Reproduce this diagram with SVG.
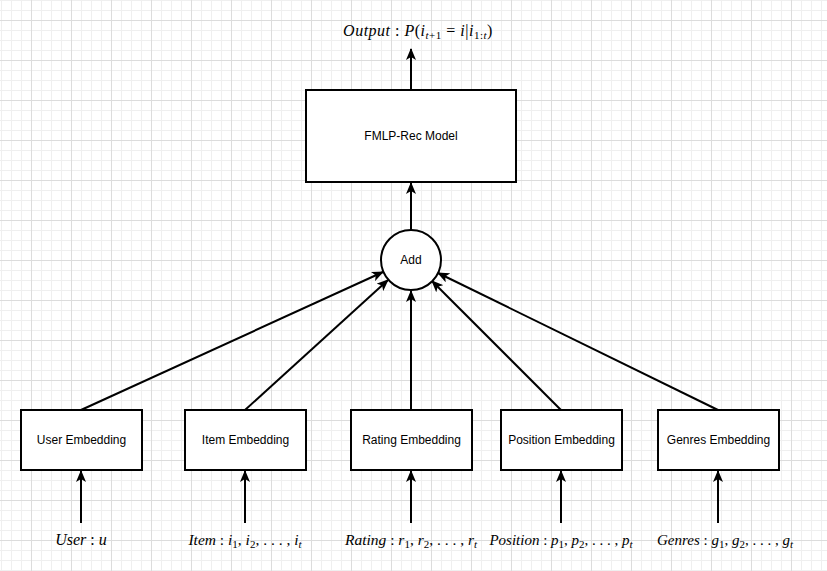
<svg xmlns="http://www.w3.org/2000/svg" width="827" height="571" viewBox="0 0 827 571">
  <defs>
    <pattern id="gridMinor" x="1" y="0" width="10" height="10" patternUnits="userSpaceOnUse">
      <path d="M0.5 0V10M0 0.5H10" fill="none" stroke="#efefef" stroke-width="1"/>
    </pattern>
    <pattern id="gridMajor" x="31" y="20" width="40" height="40" patternUnits="userSpaceOnUse">
      <path d="M0.5 0V40M0 0.5H40" fill="none" stroke="#dcdcdc" stroke-width="1"/>
    </pattern>
    <marker id="arrow" viewBox="0 0 12 10" refX="11" refY="5" markerWidth="12" markerHeight="10" markerUnits="userSpaceOnUse" orient="auto">
      <path d="M0 0L12 5L0 10L3 5Z" fill="#000"/>
    </marker>
    <style>
      .box { fill: #fff; stroke: #000; stroke-width: 2; }
      .lbl { font-family: "Liberation Sans", Arial, sans-serif; font-size: 12px; fill: #000; text-anchor: middle; }
      .edge { fill: none; stroke: #000; stroke-width: 2; marker-end: url(#arrow); }
      .math { font-family: "Liberation Serif", "DejaVu Serif", serif; font-size: 15.5px; fill: #000; text-anchor: middle; }
      .it { font-style: italic; }
      .sub { font-size: 11px; }
    </style>
  </defs>

  <rect width="827" height="571" fill="#fff"/>
  <rect width="827" height="571" fill="url(#gridMinor)"/>
  <rect width="827" height="571" fill="url(#gridMajor)"/>

  <!-- connectors -->
  <g id="edges">
    <path class="edge" d="M411 90V49"/>
    <path class="edge" d="M411 230V183"/>
    <path class="edge" d="M81 410L383 272"/>
    <path class="edge" d="M245 410L388 280"/>
    <path class="edge" d="M411 410V291"/>
    <path class="edge" d="M561 410L432 281"/>
    <path class="edge" d="M718 410L438 273"/>
    <path class="edge" d="M81 523V471"/>
    <path class="edge" d="M245 523V471"/>
    <path class="edge" d="M411 523V471"/>
    <path class="edge" d="M561 523V471"/>
    <path class="edge" d="M718 523V471"/>
  </g>

  <g id="output">
    <text class="math" x="418" y="36" style="font-size:16px;letter-spacing:0.5px"><tspan class="it">Output</tspan> : <tspan class="it">P</tspan>(<tspan class="it">i</tspan><tspan class="sub it" dy="3">t</tspan><tspan class="sub">+1</tspan><tspan dy="-3"> = </tspan><tspan class="it">i</tspan>|<tspan class="it">i</tspan><tspan class="sub" dy="3">1:</tspan><tspan class="sub it">t</tspan><tspan dy="-3">)</tspan></text>
  </g>

  <g id="fmlp">
    <rect class="box" x="306" y="90" width="210" height="92"/>
    <text class="lbl" x="411" y="140">FMLP-Rec Model</text>
  </g>

  <g id="add">
    <circle class="box" cx="411" cy="260" r="30"/>
    <text class="lbl" x="411" y="264">Add</text>
  </g>

  <g id="user-emb">
    <rect class="box" x="21" y="410" width="121" height="60"/>
    <text class="lbl" x="81.5" y="444">User Embedding</text>
  </g>
  <g id="item-emb">
    <rect class="box" x="185" y="410" width="121" height="60"/>
    <text class="lbl" x="245.5" y="444">Item Embedding</text>
  </g>
  <g id="rating-emb">
    <rect class="box" x="351" y="410" width="121" height="60"/>
    <text class="lbl" x="411.5" y="444">Rating Embedding</text>
  </g>
  <g id="position-emb">
    <rect class="box" x="501" y="410" width="121" height="60"/>
    <text class="lbl" x="561.5" y="444">Position Embedding</text>
  </g>
  <g id="genres-emb">
    <rect class="box" x="658" y="410" width="121" height="60"/>
    <text class="lbl" x="718.5" y="444">Genres Embedding</text>
  </g>

  <g id="user-in">
    <text class="math" x="81" y="545" style="font-size:16px"><tspan class="it">User</tspan> : <tspan class="it">u</tspan></text>
  </g>
  <g id="item-in">
    <text class="math" x="245" y="545"><tspan class="it">Item</tspan> : <tspan class="it">i</tspan><tspan class="sub" dy="3">1</tspan><tspan dy="-3">, </tspan><tspan class="it">i</tspan><tspan class="sub" dy="3">2</tspan><tspan dy="-3">, . . . , </tspan><tspan class="it">i</tspan><tspan class="sub it" dy="3">t</tspan></text>
  </g>
  <g id="rating-in">
    <text class="math" x="411" y="545"><tspan class="it">Rating</tspan> : <tspan class="it">r</tspan><tspan class="sub" dy="3">1</tspan><tspan dy="-3">, </tspan><tspan class="it">r</tspan><tspan class="sub" dy="3">2</tspan><tspan dy="-3">, . . . , </tspan><tspan class="it">r</tspan><tspan class="sub it" dy="3">t</tspan></text>
  </g>
  <g id="position-in">
    <text class="math" x="561" y="545" style="font-size:15px"><tspan class="it">Position</tspan> : <tspan class="it">p</tspan><tspan class="sub" dy="3">1</tspan><tspan dy="-3">, </tspan><tspan class="it">p</tspan><tspan class="sub" dy="3">2</tspan><tspan dy="-3">, . . . , </tspan><tspan class="it">p</tspan><tspan class="sub it" dy="3">t</tspan></text>
  </g>
  <g id="genres-in">
    <text class="math" x="725" y="545" style="font-size:15px"><tspan class="it">Genres</tspan> : <tspan class="it">g</tspan><tspan class="sub" dy="3">1</tspan><tspan dy="-3">, </tspan><tspan class="it">g</tspan><tspan class="sub" dy="3">2</tspan><tspan dy="-3">, . . . , </tspan><tspan class="it">g</tspan><tspan class="sub it" dy="3">t</tspan></text>
  </g>
</svg>
